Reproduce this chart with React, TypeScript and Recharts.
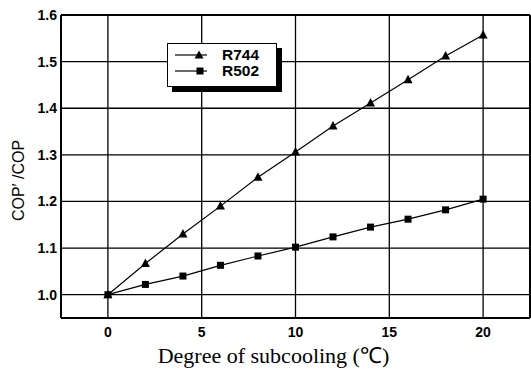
import React from 'react';
import { LineChart, Line, XAxis, YAxis, CartesianGrid, Legend } from 'recharts';

const subcooling = [0, 2, 4, 6, 8, 10, 12, 14, 16, 18, 20];
const r744 = [1.0, 1.067, 1.13, 1.19, 1.252, 1.306, 1.362, 1.411, 1.461, 1.512, 1.557];
const r502 = [1.0, 1.022, 1.04, 1.063, 1.083, 1.102, 1.124, 1.145, 1.162, 1.182, 1.205];
const seriesNames = ['R744', 'R502'];
const xTicks = [0, 5, 10, 15, 20];
const yTicks = [1.0, 1.1, 1.2, 1.3, 1.4, 1.5, 1.6];
const xMinorTicks = [2.5, 7.5, 12.5, 17.5];
const yMinorTicks = [1.05, 1.15, 1.25, 1.35, 1.45, 1.55];
const xTitle = 'Degree of subcooling (℃)';
const yTitle = 'COP′ /COP';

const data = subcooling.map((x, i) => ({ x, R744: r744[i], R502: r502[i] }));

const SANS = '"Liberation Sans", Arial, Helvetica, sans-serif';
const SERIF = '"Liberation Serif", "Times New Roman", serif';

const tickStyle = { fontFamily: SANS, fontWeight: 700, fontSize: 14, fill: '#000' };

const Tri = (p: any) => {
  const { cx, cy, index } = p;
  if (cx == null || cy == null) return <g key={`t${index}`} />;
  return (
    <polygon
      key={`t${index}`}
      points={`${cx},${cy - 5} ${cx - 4.5},${cy + 3.5} ${cx + 4.5},${cy + 3.5}`}
      fill="#000"
    />
  );
};

const Sq = (p: any) => {
  const { cx, cy, index } = p;
  if (cx == null || cy == null) return <g key={`s${index}`} />;
  return <rect key={`s${index}`} x={cx - 3.5} y={cy - 3.5} width={7} height={7} fill="#000" />;
};

const LegendBox = () => (
  <div
    style={{
      width: 110,
      height: 44,
      border: '1.5px solid #000',
      background: '#fff',
      boxShadow: '5px 5px 0 #000',
      boxSizing: 'border-box',
      fontFamily: SANS,
      fontWeight: 700,
      fontSize: 15.5,
      color: '#000',
      paddingTop: 3,
    }}
  >
    {seriesNames.map((name, i) => (
      <div key={name} style={{ display: 'flex', alignItems: 'center', height: 16 }}>
        <svg width={47} height={12} style={{ marginLeft: 7 }}>
          <line x1={0} y1={6} x2={32} y2={6} stroke="#000" strokeWidth={1.2} />
          {i === 0 ? (
            <polygon points="24,1.5 19.5,9.5 28.5,9.5" fill="#000" />
          ) : (
            <rect x={21.5} y={2.5} width={7} height={7} fill="#000" />
          )}
        </svg>
        <span style={{ lineHeight: '16px' }}>{name}</span>
      </div>
    ))}
  </div>
);

const XLabel = (props: any) => {
  const vb = props.viewBox || {};
  return (
    <text
      x={vb.x + vb.width / 2 - 22}
      y={363}
      textAnchor="middle"
      fontFamily={SERIF}
      fontSize={22}
      fill="#000"
    >
      {xTitle}
    </text>
  );
};

const YLabel = (props: any) => {
  const vb = props.viewBox || {};
  const cy = vb.y + vb.height / 2 + 14;
  return (
    <text
      x={18}
      y={cy}
      transform={`rotate(-90, 18, ${cy})`}
      textAnchor="middle"
      dominantBaseline="central"
      fontFamily={SANS}
      fontSize={16}
      fill="#000"
    >
      {yTitle}
    </text>
  );
};

export default function App() {
  return (
    <div style={{ position: 'absolute', left: 0, top: 0, background: '#fff' }}>
      <LineChart
        width={531}
        height={376}
        data={data}
        margin={{ top: 15, right: 1, bottom: 0, left: 21 }}
      >
        <CartesianGrid stroke="#000" strokeWidth={1.3} />
        <XAxis
          dataKey="x"
          type="number"
          domain={[-2.5, 22.5]}
          ticks={xTicks}
          allowDataOverflow
          tickLine={false}
          tickSize={8}
          tickMargin={1}
          height={58}
          axisLine={{ stroke: '#000', strokeWidth: 2 }}
          tick={tickStyle}
          label={{ content: XLabel }}
        />
        <XAxis
          xAxisId="top"
          orientation="top"
          type="number"
          domain={[-2.5, 22.5]}
          ticks={xMinorTicks}
          allowDataOverflow
          mirror
          height={5}
          tick={false}
          tickSize={5}
          tickLine={{ stroke: '#000', strokeWidth: 1.5 }}
          axisLine={{ stroke: '#000', strokeWidth: 2 }}
        />
        <YAxis
          type="number"
          domain={[0.95, 1.6]}
          ticks={yTicks}
          allowDataOverflow
          width={40}
          tickLine={false}
          tickSize={0}
          tickMargin={4}
          tickFormatter={(v: number) => v.toFixed(1)}
          axisLine={{ stroke: '#000', strokeWidth: 2 }}
          tick={tickStyle}
          label={{ content: YLabel }}
        />
        <YAxis
          yAxisId="leftMinor"
          orientation="left"
          type="number"
          domain={[0.95, 1.6]}
          ticks={yMinorTicks}
          allowDataOverflow
          mirror
          width={5}
          tick={false}
          tickSize={5}
          tickLine={{ stroke: '#000', strokeWidth: 1.5 }}
          axisLine={false}
        />
        <YAxis
          yAxisId="rightMinor"
          orientation="right"
          type="number"
          domain={[0.95, 1.6]}
          ticks={yMinorTicks}
          allowDataOverflow
          mirror
          width={5}
          tick={false}
          tickSize={5}
          tickLine={{ stroke: '#000', strokeWidth: 1.5 }}
          axisLine={{ stroke: '#000', strokeWidth: 2 }}
        />
        <Legend
          layout="horizontal"
          verticalAlign="middle"
          align="center"
          wrapperStyle={{ left: 167, top: 43, width: 'auto', height: 'auto' }}
          content={LegendBox}
        />
        <Line
          dataKey="R744"
          stroke="#000"
          strokeWidth={1.2}
          dot={Tri}
          activeDot={false}
          isAnimationActive={false}
        />
        <Line
          dataKey="R502"
          stroke="#000"
          strokeWidth={1.2}
          dot={Sq}
          activeDot={false}
          isAnimationActive={false}
        />
      </LineChart>
    </div>
  );
}
